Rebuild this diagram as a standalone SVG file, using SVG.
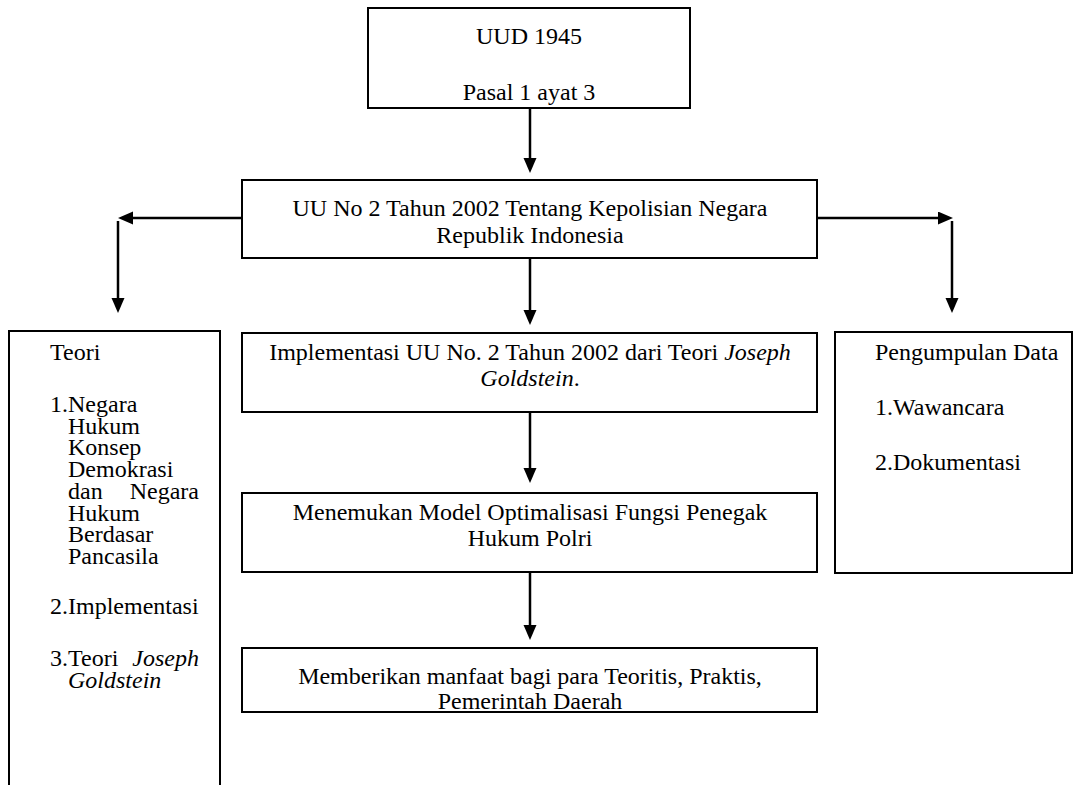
<svg xmlns="http://www.w3.org/2000/svg" width="1073" height="785" viewBox="0 0 1073 785">
<style>
  .box { fill: #ffffff; stroke: #000000; stroke-width: 2; }
  .t { font-family: "Liberation Serif", "Times New Roman", Times, serif; font-size: 24px; fill: #000000; }
  .c { text-anchor: middle; }
  .e { text-anchor: end; }
  .i { font-style: italic; }
  .ln { stroke: #000000; stroke-width: 2.5; fill: none; marker-end: url(#ah); }
</style>
<defs>
  <marker id="ah" markerUnits="userSpaceOnUse" markerWidth="16" markerHeight="14" refX="5" refY="6.5" orient="auto">
    <path d="M0,0 L15,6.5 L0,13 Z" fill="#000000"/>
  </marker>
</defs>
<rect width="1073" height="785" fill="#ffffff"/>

<g id="connectors">
  <line class="ln" x1="530" y1="108" x2="530" y2="163"/>
  <line class="ln" x1="242" y1="218" x2="128" y2="218"/>
  <line class="ln" x1="118" y1="221" x2="118" y2="303"/>
  <line class="ln" x1="817" y1="218" x2="943" y2="218"/>
  <line class="ln" x1="952" y1="221" x2="952" y2="303"/>
  <line class="ln" x1="530" y1="258" x2="530" y2="315"/>
  <line class="ln" x1="530" y1="412" x2="530" y2="473"/>
  <line class="ln" x1="530" y1="572" x2="530" y2="630"/>
</g>

<g id="uud">
  <rect class="box" x="368" y="8" width="322" height="100"/>
  <text class="t c" x="529" y="44">UUD 1945</text>
  <text class="t c" x="529" y="100">Pasal 1 ayat 3</text>
</g>

<g id="uu">
  <rect class="box" x="242" y="180" width="575" height="78"/>
  <text class="t c" x="530" y="216">UU No 2 Tahun 2002 Tentang Kepolisian Negara</text>
  <text class="t c" x="530" y="243">Republik Indonesia</text>
</g>

<g id="teori">
  <path class="box" d="M9,800 L9,331 L220,331 L220,800"/>
  <text class="t" x="50" y="360">Teori</text>
  <text class="t" x="50" y="412">1.Negara</text>
  <text class="t" x="68" y="433.7">Hukum</text>
  <text class="t" x="68" y="455.4">Konsep</text>
  <text class="t" x="68" y="477.1">Demokrasi</text>
  <text class="t" x="68" y="498.8">dan</text>
  <text class="t e" x="199" y="498.8">Negara</text>
  <text class="t" x="68" y="520.5">Hukum</text>
  <text class="t" x="68" y="542.2">Berdasar</text>
  <text class="t" x="68" y="563.9">Pancasila</text>
  <text class="t" x="50" y="614">2.Implementasi</text>
  <text class="t" x="50" y="666">3.Teori</text>
  <text class="t e i" x="199" y="666">Joseph</text>
  <text class="t i" x="68" y="688">Goldstein</text>
</g>

<g id="implementasi">
  <rect class="box" x="242" y="333" width="575" height="79"/>
  <text class="t c" x="530" y="360">Implementasi UU No. 2 Tahun 2002 dari Teori <tspan class="i">Joseph</tspan></text>
  <text class="t c" x="530" y="386"><tspan class="i">Goldstein</tspan>.</text>
</g>

<g id="menemukan">
  <rect class="box" x="242" y="493" width="575" height="79"/>
  <text class="t c" x="530" y="520">Menemukan Model Optimalisasi Fungsi Penegak</text>
  <text class="t c" x="530" y="546">Hukum Polri</text>
</g>

<g id="memberikan">
  <rect class="box" x="242" y="648" width="575" height="64"/>
  <text class="t c" x="530" y="684">Memberikan manfaat bagi para Teoritis, Praktis,</text>
  <text class="t c" x="530" y="709">Pemerintah Daerah</text>
</g>

<g id="pengumpulan">
  <rect class="box" x="835" y="332" width="237" height="241"/>
  <text class="t" x="875" y="360">Pengumpulan Data</text>
  <text class="t" x="875" y="415">1.Wawancara</text>
  <text class="t" x="875" y="470">2.Dokumentasi</text>
</g>
</svg>
